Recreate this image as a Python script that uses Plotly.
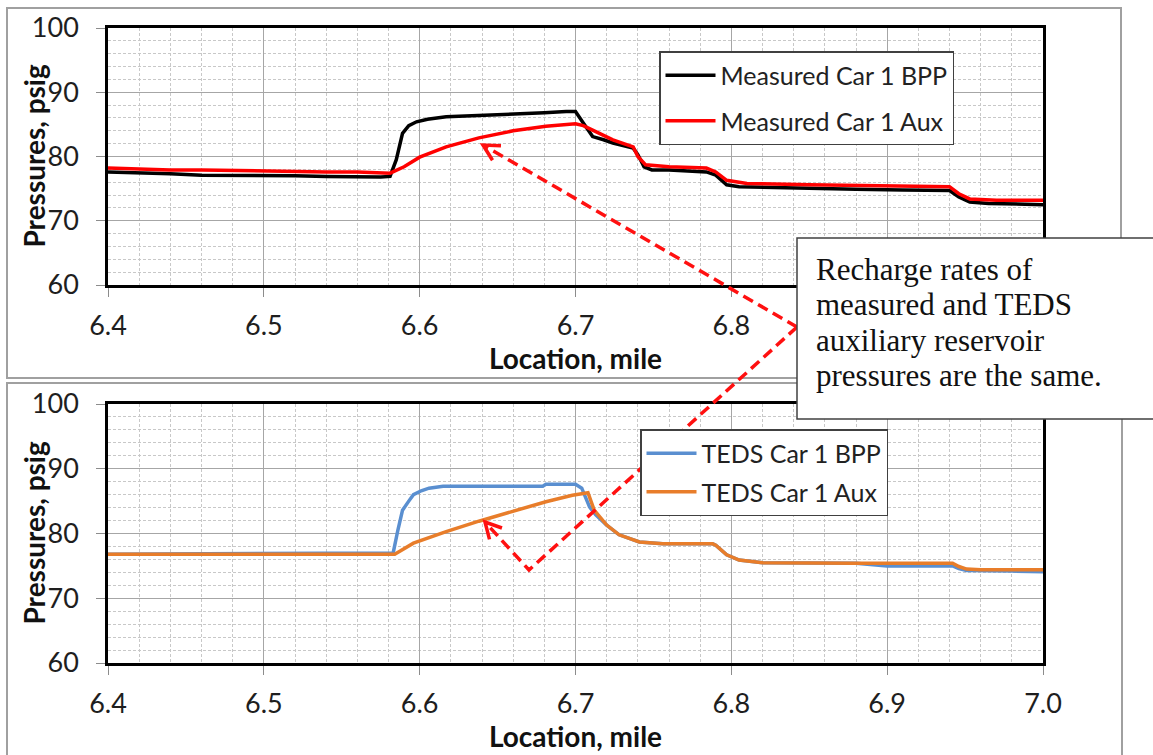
import math
import plotly.graph_objects as go

# ---------------- data ----------------
meas_bpp_x = [6.400, 6.420, 6.440, 6.460, 6.480, 6.500, 6.520, 6.540, 6.560, 6.575, 6.581,
              6.585, 6.589, 6.593, 6.598, 6.605, 6.617, 6.640, 6.660, 6.680, 6.694, 6.700,
              6.705, 6.711, 6.718, 6.724, 6.737, 6.740, 6.744, 6.749, 6.760, 6.784, 6.790,
              6.797, 6.805, 6.820, 6.850, 6.880, 6.910, 6.940, 6.946, 6.953, 6.965, 6.980, 7.000]
meas_bpp_y = [77.6, 77.5, 77.3, 77.1, 77.1, 77.0, 77.0, 76.9, 76.8, 76.8, 76.9,
              79.5, 83.6, 84.8, 85.4, 85.8, 86.2, 86.4, 86.5, 86.8, 87.0, 87.0,
              85.2, 83.1, 82.6, 82.1, 81.3, 80.3, 78.4, 77.9, 77.9, 77.6, 77.1,
              75.6, 75.3, 75.2, 75.0, 74.9, 74.8, 74.7, 73.7, 72.9, 72.7, 72.6, 72.5]

meas_aux_x = [6.400, 6.420, 6.440, 6.460, 6.480, 6.500, 6.520, 6.540, 6.560, 6.581, 6.590,
              6.600, 6.617, 6.638, 6.660, 6.681, 6.700, 6.705, 6.711, 6.724, 6.737, 6.740,
              6.745, 6.760, 6.784, 6.790, 6.797, 6.810, 6.850, 6.900, 6.940, 6.946, 6.953,
              6.970, 7.000]
meas_aux_y = [78.2, 78.0, 77.9, 77.9, 77.8, 77.7, 77.7, 77.6, 77.6, 77.4, 78.4,
              79.9, 81.5, 82.9, 84.0, 84.7, 85.1, 84.8, 84.1, 82.6, 81.5, 80.0,
              78.7, 78.4, 78.2, 77.6, 76.3, 75.8, 75.6, 75.5, 75.3, 74.2, 73.4,
              73.2, 73.2]

teds_bpp_x = [6.400, 6.583, 6.586, 6.589, 6.593, 6.596, 6.601, 6.606, 6.615, 6.640, 6.679,
              6.681, 6.700, 6.704, 6.709, 6.713, 6.720, 6.728, 6.741, 6.756, 6.788, 6.790,
              6.797, 6.805, 6.820, 6.880, 6.900, 6.942, 6.946, 6.951, 6.960, 6.980, 7.000]
teds_bpp_y = [76.8, 77.0, 80.5, 83.6, 85.0, 86.0, 86.6, 87.0, 87.3, 87.3, 87.3,
              87.6, 87.6, 87.0, 84.1, 82.9, 81.3, 79.8, 78.7, 78.4, 78.4, 78.2,
              76.7, 75.9, 75.5, 75.4, 75.0, 75.0, 74.6, 74.3, 74.3, 74.2, 74.1]

teds_aux_x = [6.400, 6.584, 6.596, 6.617, 6.638, 6.660, 6.681, 6.698, 6.708, 6.712, 6.720,
              6.728, 6.741, 6.756, 6.788, 6.790, 6.797, 6.805, 6.820, 6.880, 6.942, 6.946,
              6.951, 6.960, 7.000]
teds_aux_y = [76.8, 76.8, 78.5, 80.3, 81.9, 83.4, 84.9, 85.9, 86.3, 83.6, 81.3,
              79.8, 78.7, 78.4, 78.4, 78.2, 76.7, 75.9, 75.5, 75.4, 75.4, 74.9,
              74.5, 74.4, 74.4]

x_range = [6.4, 7.0]
y_range = [60, 100]
x_tickvals = [6.4, 6.5, 6.6, 6.7, 6.8, 6.9, 7.0]
x_ticktext_bottom = ["6.4", "6.5", "6.6", "6.7", "6.8", "6.9", "7.0"]
x_ticktext_top = ["6.4", "6.5", "6.6", "6.7", "6.8", "", ""]   # 6.9 / 7.0 hidden by the note box
note_lines = ["Recharge rates of", "measured and TEDS", "auxiliary reservoir",
              "pressures are the same."]
x_title = "<b>Location, mile</b>"
y_title = "<b>Pressures, psig</b>"

# ---------------- layout helpers ----------------
W, H = 1153, 755
def fx(p):
    return p / W
def fy(p):
    return 1 - p / H

TICK_FONT = dict(family="Lato", size=27, color="#1e1e1e")
TITLE_FONT = dict(family="Lato", size=28, color="#111111")

fig = go.Figure()
fig.add_trace(go.Scatter(x=meas_bpp_x, y=meas_bpp_y, mode="lines", name="Measured Car 1 BPP",
                         line=dict(color="#000000", width=3.5), xaxis="x", yaxis="y",
                         legend="legend", legendgroup="a"))
fig.add_trace(go.Scatter(x=meas_aux_x, y=meas_aux_y, mode="lines", name="Measured Car 1 Aux",
                         line=dict(color="#ff0000", width=3.5), xaxis="x", yaxis="y",
                         legend="legend", legendgroup="b"))
fig.add_trace(go.Scatter(x=teds_bpp_x, y=teds_bpp_y, mode="lines", name="TEDS Car 1 BPP",
                         line=dict(color="#5a8fd0", width=3.5), xaxis="x2", yaxis="y2",
                         legend="legend2", legendgroup="c"))
fig.add_trace(go.Scatter(x=teds_aux_x, y=teds_aux_y, mode="lines", name="TEDS Car 1 Aux",
                         line=dict(color="#e87d2a", width=3.5), xaxis="x2", yaxis="y2",
                         legend="legend2", legendgroup="d"))

def xaxis(anchor, ticktext):
    return dict(domain=[fx(108), fx(1043)], anchor=anchor, range=x_range,
                tickmode="array", tickvals=x_tickvals, ticktext=ticktext,
                showgrid=True, gridcolor="#a6a6a6", gridwidth=1,
                showline=True, linecolor="#000000", linewidth=2.5, mirror=True,
                ticks="outside", ticklen=9, tickcolor="#8c8c8c", tickwidth=1,
                tickfont=TICK_FONT, ticklabelstandoff=6, zeroline=False, automargin=False,
                minor=dict(dtick=0.02, tick0=6.4, showgrid=True, gridcolor="#c8c8c8",
                           griddash="3px,2px", gridwidth=1),
                title=dict(text=x_title, font=TITLE_FONT, standoff=7))

def yaxis(anchor, top, bottom):
    return dict(domain=[fy(bottom), fy(top)], anchor=anchor, range=y_range, dtick=10,
                showgrid=True, gridcolor="#a6a6a6", gridwidth=1,
                showline=True, linecolor="#000000", linewidth=2.5, mirror=True,
                ticks="outside", ticklen=9, tickcolor="#8c8c8c", tickwidth=1,
                tickfont=TICK_FONT, ticklabelstandoff=12, zeroline=False, automargin=False,
                minor=dict(dtick=2, showgrid=True, gridcolor="#c8c8c8", griddash="3px,2px",
                           gridwidth=1))

# arrow geometry (pixel positions of the call-out arrows)
A = (797, 327)
T1 = (483, 145)
V = (529, 570)
T2 = (485, 522)

def chevron(tip, frm, length=18, ang=28):
    dx, dy = frm[0] - tip[0], frm[1] - tip[1]
    d = math.hypot(dx, dy)
    ux, uy = dx / d, dy / d
    pts = []
    for s in (-1, 1):
        a = math.radians(ang * s)
        rx = ux * math.cos(a) - uy * math.sin(a)
        ry = ux * math.sin(a) + uy * math.cos(a)
        pts.append((tip[0] + rx * length, tip[1] + ry * length))
    return (f"M{fx(pts[0][0])},{fy(pts[0][1])} L{fx(tip[0])},{fy(tip[1])} "
            f"L{fx(pts[1][0])},{fy(pts[1][1])}")

RED = "#ff1010"
shapes = [
    dict(type="rect", xref="paper", yref="paper", x0=fx(7), x1=fx(1121), y0=fy(378), y1=fy(8),
         line=dict(color="#a0a0a0", width=2), layer="below"),
    dict(type="rect", xref="paper", yref="paper", x0=fx(7), x1=fx(1122), y0=fy(770), y1=fy(383),
         line=dict(color="#a0a0a0", width=2), layer="below"),
    dict(type="path", xref="paper", yref="paper",
         path=f"M{fx(A[0])},{fy(A[1])} L{fx(T1[0])},{fy(T1[1])}",
         line=dict(color=RED, width=3.5, dash="11px,6px"), layer="above"),
    dict(type="path", xref="paper", yref="paper",
         path=f"M{fx(A[0])},{fy(A[1])} L{fx(V[0])},{fy(V[1])} L{fx(T2[0])},{fy(T2[1])}",
         line=dict(color=RED, width=3.5, dash="11px,6px"), layer="above"),
    dict(type="path", xref="paper", yref="paper", path=chevron(T1, A),
         line=dict(color=RED, width=3.5), layer="above"),
    dict(type="path", xref="paper", yref="paper", path=chevron(T2, V),
         line=dict(color=RED, width=3.5), layer="above"),
    dict(type="rect", xref="paper", yref="paper", x0=fx(797), x1=fx(1170), y0=fy(419), y1=fy(238),
         line=dict(color="#404040", width=1.5), fillcolor="white", layer="above"),
]

annotations = []
for line_txt, yc in zip(note_lines, [269, 304, 340, 376]):
    annotations.append(dict(xref="paper", yref="paper", x=fx(814), y=fy(yc),
                            xanchor="left", yanchor="middle", align="left", showarrow=False,
                            text=line_txt,
                            font=dict(family="Liberation Serif", size=31, color="#111111")))
for top, bottom in [(28, 285), (404, 663)]:
    annotations.append(dict(xref="paper", yref="paper", x=fx(33), y=fy((top + bottom) / 2),
                            xanchor="center", yanchor="middle", showarrow=False,
                            textangle=-90, text=y_title, font=TITLE_FONT))

legend_common = dict(xanchor="left", yanchor="top", bgcolor="white", bordercolor="#404040",
                     borderwidth=1.5, font=dict(family="Lato", size=25, color="#222222"),
                     traceorder="grouped", itemwidth=50)

fig.update_layout(
    width=W, height=H, autosize=False,
    margin=dict(l=0, r=0, t=0, b=0, pad=0),
    paper_bgcolor="white", plot_bgcolor="white",
    xaxis=xaxis("y", x_ticktext_top),
    yaxis=yaxis("x", 28, 285),
    xaxis2=xaxis("y2", x_ticktext_bottom),
    yaxis2=yaxis("x2", 404, 663),
    legend=dict(x=fx(659), y=fy(51), tracegroupgap=10, **legend_common),
    legend2=dict(x=fx(640), y=fy(429), tracegroupgap=3, **legend_common),
    shapes=shapes,
    annotations=annotations,
    showlegend=True,
)

fig.write_html("out.html", config={"displayModeBar": False},
               post_script="document.body.style.margin='0';document.body.style.overflow='hidden';")
